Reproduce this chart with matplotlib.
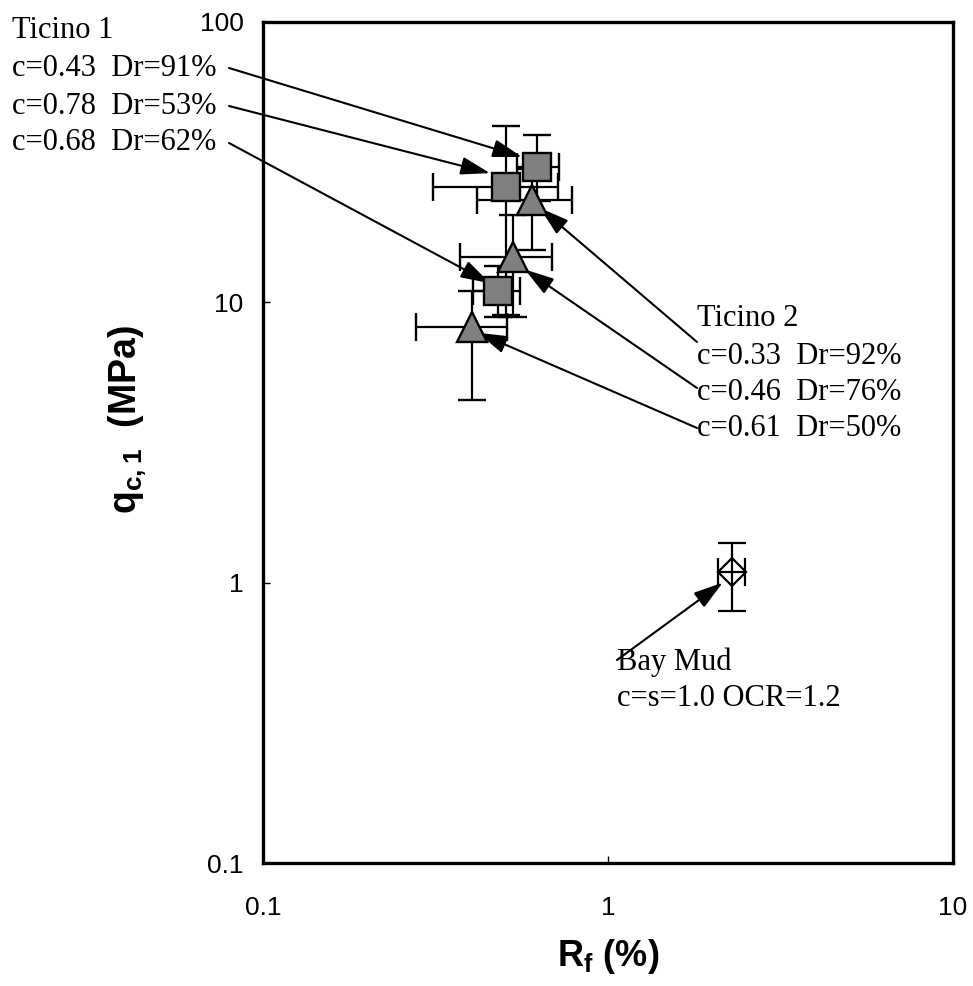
import numpy as np
import matplotlib
matplotlib.use('Agg')
import matplotlib.pyplot as plt

plt.rcParams['font.family'] = ['Liberation Sans', 'DejaVu Sans']
plt.rcParams['mathtext.fontset'] = 'custom'
plt.rcParams['mathtext.rm'] = 'Liberation Sans:bold'
plt.rcParams['mathtext.bf'] = 'Liberation Sans:bold'
plt.rcParams['mathtext.default'] = 'bf'

# Ticino 1 (squares): c=0.43/Dr=91%, c=0.78/Dr=53%, c=0.68/Dr=62%
t1_rf = [0.622, 0.506, 0.480]
t1_qc = [30.4, 25.8, 11.0]
t1_rf_lo = [0.545, 0.311, 0.406]
t1_rf_hi = [0.721, 0.716, 0.556]
t1_qc_lo = [23.0, 9.0, 8.9]
t1_qc_hi = [39.5, 42.6, 13.5]
t1_labels = ["c=0.43  Dr=91%", "c=0.78  Dr=53%", "c=0.68  Dr=62%"]

# Ticino 2 (triangles): c=0.33/Dr=92%, c=0.46/Dr=76%, c=0.61/Dr=50%
t2_rf = [0.602, 0.530, 0.403]
t2_qc = [23.2, 14.5, 8.18]
t2_rf_lo = [0.417, 0.372, 0.277]
t2_rf_hi = [0.787, 0.688, 0.509]
t2_qc_lo = [15.4, 8.9, 4.49]
t2_qc_hi = [30.0, 20.5, 11.0]
t2_labels = ["c=0.33  Dr=92%", "c=0.46  Dr=76%", "c=0.61  Dr=50%"]

# Bay Mud (open diamond)
bm_rf = [2.29]
bm_qc = [1.09]
bm_rf_lo = [2.08]
bm_rf_hi = [2.50]
bm_qc_lo = [0.795]
bm_qc_hi = [1.39]

# where the arrows point (data coords)
t1_tips = [(0.563, 33.0), (0.455, 28.9), (0.455, 11.7)]
t2_tips = [(0.635, 21.7), (0.574, 13.1), (0.420, 7.79)]
bm_tip = (2.15, 1.0)


def err(v, lo, hi):
    v = np.array(v); return [v - np.array(lo), np.array(hi) - v]


fig = plt.figure(figsize=(9.73, 9.86), dpi=100)
ax = fig.add_axes([0.2703, 0.1247, 0.7091, 0.853])
W, H = 973, 986


def fp(x, y):
    # image pixel -> figure fraction
    return (x / W, 1 - y / H)


ebkw = dict(ecolor='k', elinewidth=1.6, capsize=10, capthick=1.6, linestyle='none')
ax.errorbar(t1_rf, t1_qc, xerr=err(t1_rf, t1_rf_lo, t1_rf_hi), yerr=err(t1_qc, t1_qc_lo, t1_qc_hi),
            marker='s', ms=20.5, mfc='#808080', mec='k', mew=1.7, zorder=3, **ebkw)
ax.errorbar(t2_rf, t2_qc, xerr=err(t2_rf, t2_rf_lo, t2_rf_hi), yerr=err(t2_qc, t2_qc_lo, t2_qc_hi),
            marker='^', ms=22, mfc='#808080', mec='k', mew=1.7, zorder=3, **ebkw)
ax.errorbar(bm_rf, bm_qc, xerr=err(bm_rf, bm_rf_lo, bm_rf_hi), yerr=err(bm_qc, bm_qc_lo, bm_qc_hi),
            marker='D', ms=14, mfc='none', mec='k', mew=1.6, zorder=3, **ebkw)

ax.set_xscale('log')
ax.set_yscale('log')
ax.set_xlim(0.1, 10)
ax.set_ylim(0.1, 100)
ax.set_xticks([0.1, 1, 10])
ax.set_xticklabels(['0.1', '1', '10'])
ax.set_yticks([0.1, 1, 10, 100])
ax.set_yticklabels(['0.1', '1', '10', '100'])
ax.minorticks_off()
ax.tick_params(direction='in', length=5, width=1, labelsize=19)
ax.tick_params(axis='x', pad=24)
ax.tick_params(axis='y', pad=14)
for s in ax.spines.values():
    s.set_linewidth(2.4)

ax.set_xlabel(r'R$_\mathbf{f}$ (%)', fontsize=26, fontweight='bold')
ax.set_ylabel(r'q$_\mathbf{c,1}$  (MPa)', fontsize=27, fontweight='bold')
ax.xaxis.set_label_coords(0.5, -0.088)
ax.yaxis.set_label_coords(-0.165, 0.527)

tfont = dict(family='Liberation Serif', fontsize=22, va='center', ha='left')
arw = dict(arrowstyle='-|>,head_length=1.8,head_width=0.55', color='k', lw=1.5,
           shrinkA=0, shrinkB=0)

# Ticino 1 text block
fig.text(*fp(12, 30), "Ticino 1", **tfont)
t1_text_y = [68, 106, 143]
for lab, ty, tip in zip(t1_labels, t1_text_y, t1_tips):
    fig.text(*fp(12, ty), lab, **tfont)
    ax.annotate('', xy=tip, xycoords='data', xytext=fp(229, ty), textcoords='figure fraction',
                arrowprops=arw, annotation_clip=False)

# Ticino 2 text block
fig.text(*fp(697, 319), "Ticino 2", **tfont)
t2_text_y = [356, 392, 429]
t2_start_y = [342, 388, 428]
for lab, ty, sy, tip in zip(t2_labels, t2_text_y, t2_start_y, t2_tips):
    fig.text(*fp(697, ty), lab, **tfont)
    ax.annotate('', xy=tip, xycoords='data', xytext=fp(697, sy), textcoords='figure fraction',
                arrowprops=arw, annotation_clip=False)

# Bay Mud
fig.text(*fp(617, 662), "Bay Mud", **tfont)
fig.text(*fp(617, 698), "c=s=1.0 OCR=1.2", **tfont)
ax.annotate('', xy=bm_tip, xycoords='data', xytext=fp(617, 660), textcoords='figure fraction',
            arrowprops=arw, annotation_clip=False)

fig.savefig('out.png', dpi=100)
